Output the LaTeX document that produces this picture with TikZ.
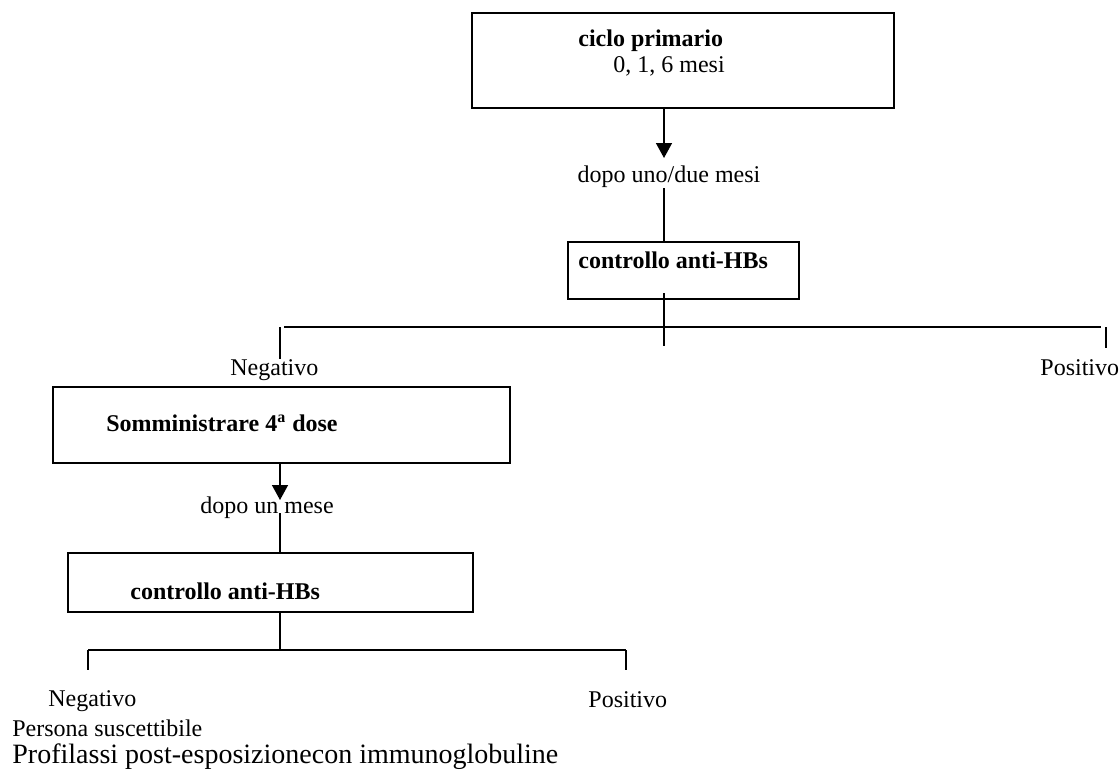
\documentclass[tikz,border=0pt]{standalone}
\usepackage{fontspec}
\setmainfont{Liberation Serif}
\usetikzlibrary{positioning,arrows.meta}

\begin{document}
\begin{tikzpicture}[
  x=0.5pt, y=-0.5pt,
  font=\fontsize{12}{14}\selectfont,
  >={Triangle[length=7.5pt, width=8pt]},
  box/.style={draw=black, line width=1pt, inner sep=0pt},
  txt/.style={anchor=west, inner sep=0pt},
  hd/.style={txt, font=\fontsize{12}{14}\selectfont\bfseries},
  link/.style={draw=black, line width=0.75pt},
  arrow/.style={link, ->}
]
\useasboundingbox (0,0) rectangle (1119,771);

% ------------------------------------------------------------
% Top: primary cycle and first check
% ------------------------------------------------------------
\node[box, minimum width=211pt, minimum height=47.5pt] (ciclo) at (683,60.5) {};
\node[hd] (cicloT) at (578,41) {ciclo primario};
\node[txt] (mesi) at (613,66) {0, 1, 6 mesi};

\coordinate (a1) at (664,158);
\node (dopo1) at (669,177) [inner sep=0pt] {dopo uno/due mesi};

\node[box, minimum width=115.5pt, minimum height=28.5pt] (ctrl1) at (683.5,270.5) {};
\node[hd] (ctrl1T) at (578,260) {controllo anti-HBs};

\draw[arrow] (ciclo.south -| a1) -- (a1);
\draw[link] (dopo1.south -| a1) -- (ctrl1.north -| a1);

% branch after first check
\coordinate (s1) at (664,346);
\coordinate (b1l) at (280,327);
\coordinate (b1r) at (1106,327);
\node[txt] (neg1) at (230,370) {Negativo};
\node[txt] (pos1) at (1040,368) {Positivo};

\draw[link] ([yshift=3.5pt]ctrl1.south -| s1) -- (s1);
\draw[link] ([xshift=2pt]b1l) -- ([xshift=-2.5pt]b1r);
\draw[link] (b1l) -- (neg1.north -| b1l);
\draw[link] (b1r) -- ++(0,21);

% ------------------------------------------------------------
% Left: fourth dose and second check
% ------------------------------------------------------------
\node[box, minimum width=228.5pt, minimum height=38pt] (dose) at (281.5,425) {};
\node[hd] (doseT) at (106,423) {Somministrare 4\textsuperscript{a} dose};

\coordinate (a2) at (280,500);
\node (dopo2) at (267,508) [inner sep=0pt] {dopo un mese};

\node[box, minimum width=202.5pt, minimum height=29.5pt] (ctrl2) at (270.5,582.5) {};
\node[hd] (ctrl2T) at (130,591) {controllo anti-HBs};

\draw[arrow] (dose.south -| a2) -- (a2);
\draw[link] ([yshift=3pt]dopo2.south -| a2) -- (ctrl2.north -| a2);

% branch after second check
\coordinate (s2) at (280,650);
\coordinate (b2l) at (88,650);
\coordinate (b2r) at (626,650);

\draw[link] (ctrl2.south -| s2) -- (s2);
\draw[link] (b2l) -- (b2r);
\draw[link] (b2l) -- ++(0,20);
\draw[link] (b2r) -- ++(0,20);

\node[txt] (neg2) at (48,701) {Negativo};
\node[txt] (pos2) at (588,700) {Positivo};
\node[txt] (pers) at (12,728) {Persona suscettibile};
\node[txt, font=\fontsize{14}{16}\selectfont] (prof) at (12,757) {Profilassi post-esposizionecon immunoglobuline};

\end{tikzpicture}
\end{document}
